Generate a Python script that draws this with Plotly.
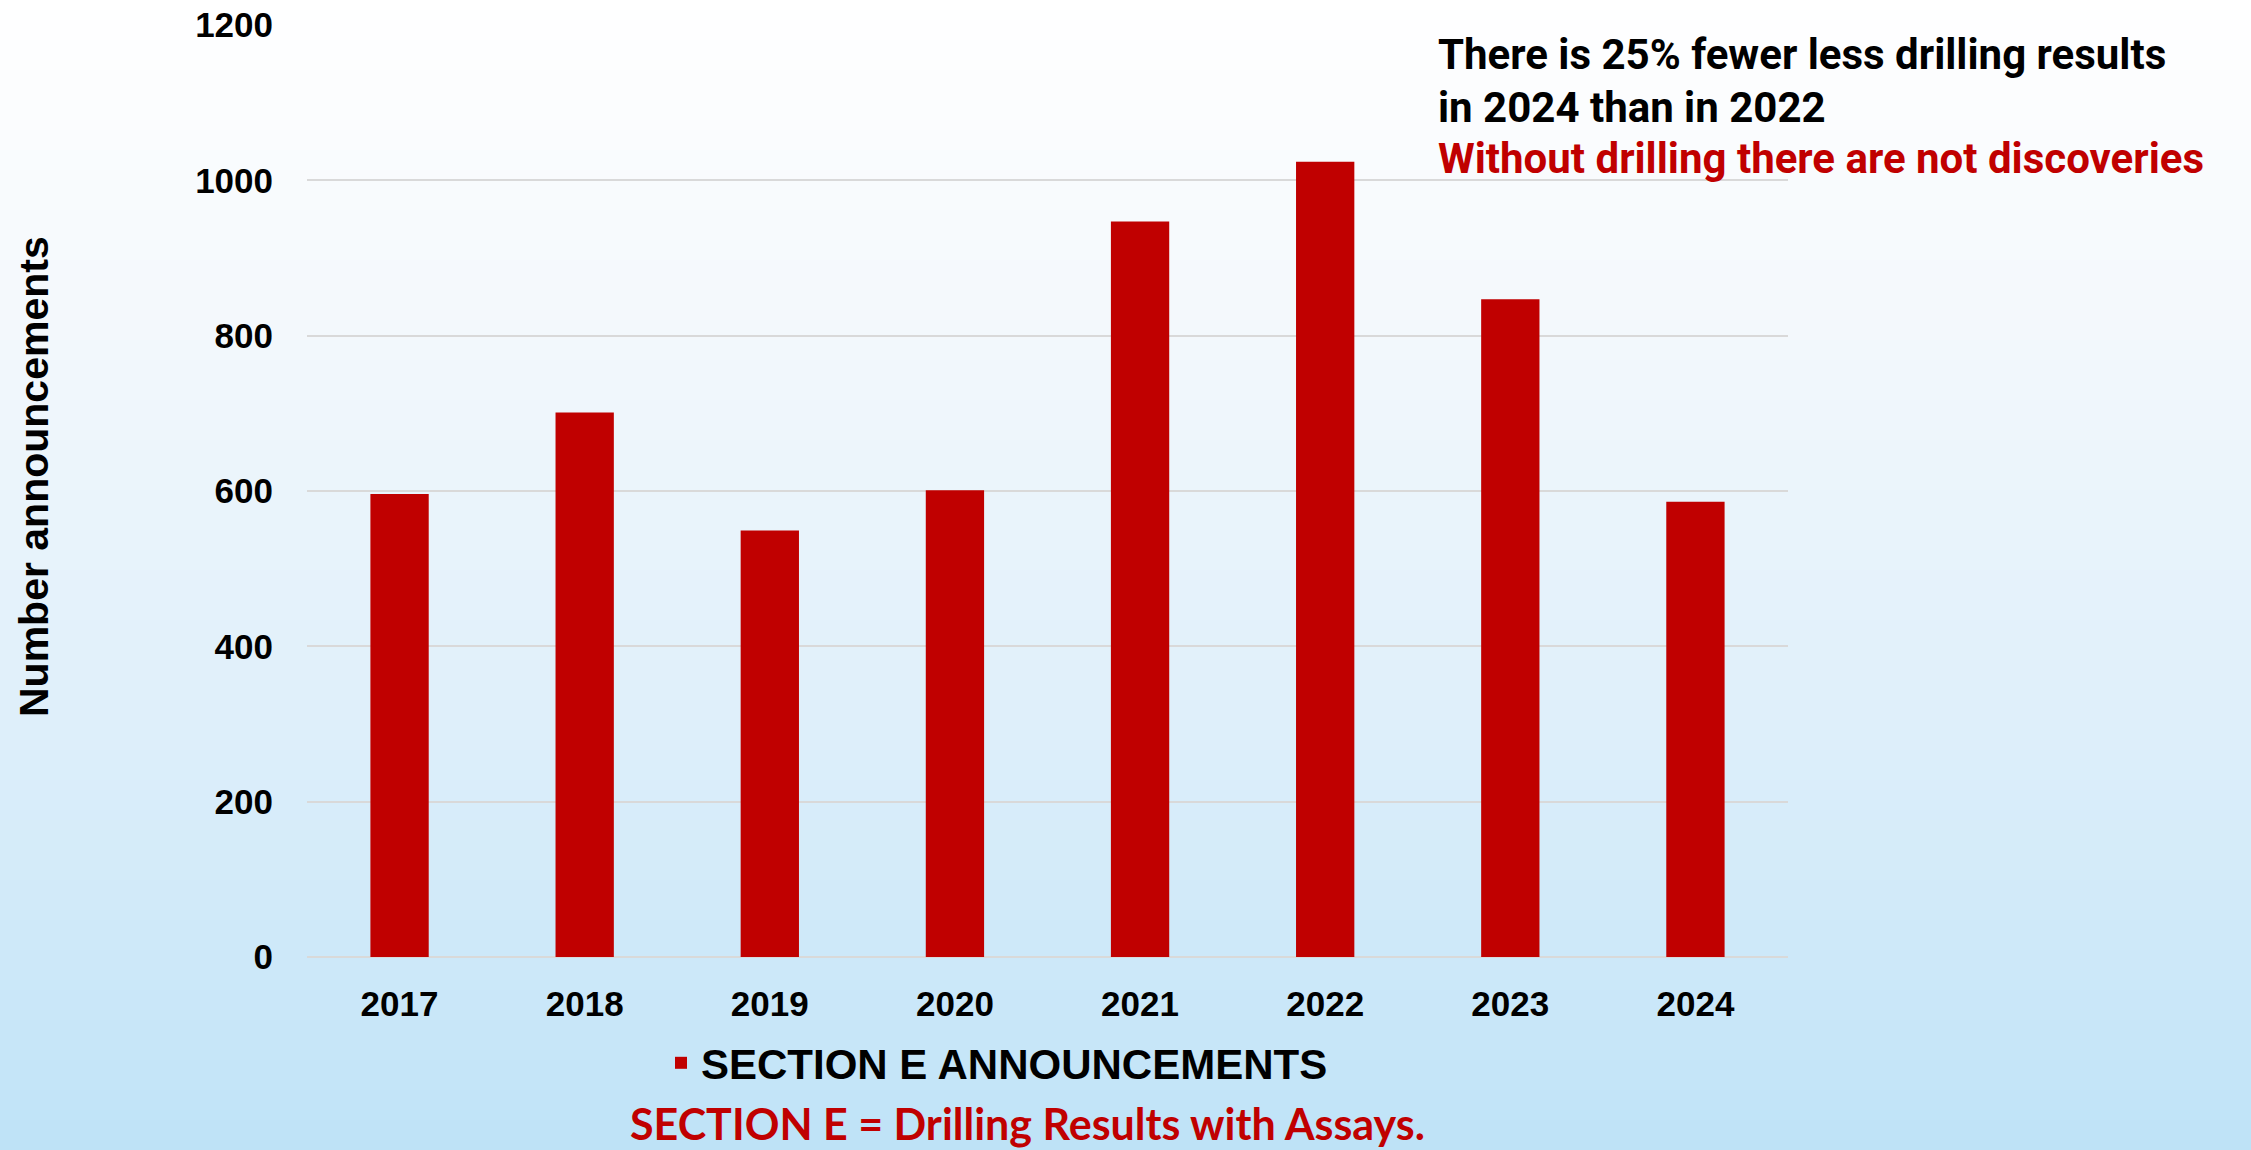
import plotly.graph_objects as go

years = ["2017", "2018", "2019", "2020", "2021", "2022", "2023", "2024"]
announcements = [596, 701, 549, 601, 947, 1024, 847, 586]
y_ticks = [0, 200, 400, 600, 800, 1000, 1200]

series_name = "SECTION E ANNOUNCEMENTS"
y_title = "Number announcements"
note_lines = ["There is 25% fewer less drilling results",
              "in 2024 than in 2022",
              "Without drilling there are not discoveries"]
footer = "SECTION E = Drilling Results with Assays."

RED = "#C00000"
W, H = 2251, 1150
ML, MR, MT, MB = 307, 463, 25, 193
PW, PH = W - ML - MR, H - MT - MB

# background gradient (vertical) built from colour stops
stops = [(0.0, (255, 255, 255)), (0.29, (243, 248, 252)), (0.63, (222, 239, 250)),
         (0.965, (194, 228, 248)), (1.0, (189, 226, 246))]


def col_at(t):
    for (t0, c0), (t1, c1) in zip(stops[:-1], stops[1:]):
        if t0 <= t <= t1:
            f = (t - t0) / (t1 - t0) if t1 > t0 else 0
            return "rgb(%d,%d,%d)" % tuple(round(a + (b - a) * f) for a, b in zip(c0, c1))
    return "rgb(%d,%d,%d)" % stops[-1][1]


def px_to_py(py):
    return (H - MB - py) / PH


def px_to_px(px):
    return (px - ML) / PW


shapes = []
band = 10
for i in range(0, H, band):
    top = i if i > 0 else -30
    bot = i + band + 1 if i + band < H else H + 30
    shapes.append(dict(type="rect", xref="paper", yref="paper",
                       x0=px_to_px(-30), x1=px_to_px(W + 30),
                       y0=px_to_py(bot), y1=px_to_py(top),
                       fillcolor=col_at((i + band / 2) / H), line=dict(width=0),
                       layer="below"))

fig = go.Figure()
fig.add_trace(go.Bar(x=years, y=announcements, name=series_name,
                     marker=dict(color=RED, line=dict(width=0)), showlegend=True))

fig.update_layout(
    width=W, height=H,
    margin=dict(l=ML, r=MR, t=MT, b=MB, pad=0, autoexpand=False),
    paper_bgcolor="rgb(189,226,246)",
    plot_bgcolor="rgba(0,0,0,0)",
    bargap=0.685,
    shapes=shapes,
    font=dict(family="Liberation Sans, Arial, sans-serif", color="black"),
    showlegend=True,
    legend=dict(orientation="h", x=px_to_px(997), xanchor="center",
                y=px_to_py(1063), yanchor="middle",
                font=dict(size=42, family="Liberation Sans, Arial", weight="bold", color="black"),
                bgcolor="rgba(0,0,0,0)"),
)

fig.update_xaxes(showgrid=False, zeroline=False, showline=False, ticks="", automargin=False,
                 tickfont=dict(size=35, weight="bold", family="Liberation Sans, Arial"),
                 ticklabelstandoff=23)
fig.update_yaxes(range=[0, 1200], tickvals=y_ticks, showgrid=True, automargin=False,
                 gridcolor="#D9D9D9", gridwidth=2, zeroline=True, zerolinecolor="#D9D9D9",
                 zerolinewidth=2, showline=False, ticks="",
                 tickfont=dict(size=35, weight="bold", family="Liberation Sans, Arial"),
                 ticklabelstandoff=33)

fig.add_annotation(text=y_title, xref="paper", yref="paper",
                   x=px_to_px(34), y=px_to_py(477), textangle=-90,
                   showarrow=False, xanchor="center", yanchor="middle",
                   font=dict(size=41, weight="bold", family="Liberation Sans, Arial", color="black"))

note_colors = ["black", "black", RED]
note_centers = [55, 107, 158]
for txt, c, yc in zip(note_lines, note_colors, note_centers):
    fig.add_annotation(text=txt, xref="paper", yref="paper", x=px_to_px(1436), y=px_to_py(yc),
                       xanchor="left", yanchor="middle", align="left", showarrow=False,
                       font=dict(size=42, weight="bold", family="Roboto", color=c))

fig.add_annotation(text=footer, xref="paper", yref="paper",
                   x=px_to_px(1027), y=px_to_py(1123), xanchor="center", yanchor="middle",
                   showarrow=False,
                   font=dict(size=43, weight="bold", family="Lato, Open Sans", color=RED))

fig.write_html("out.html")
